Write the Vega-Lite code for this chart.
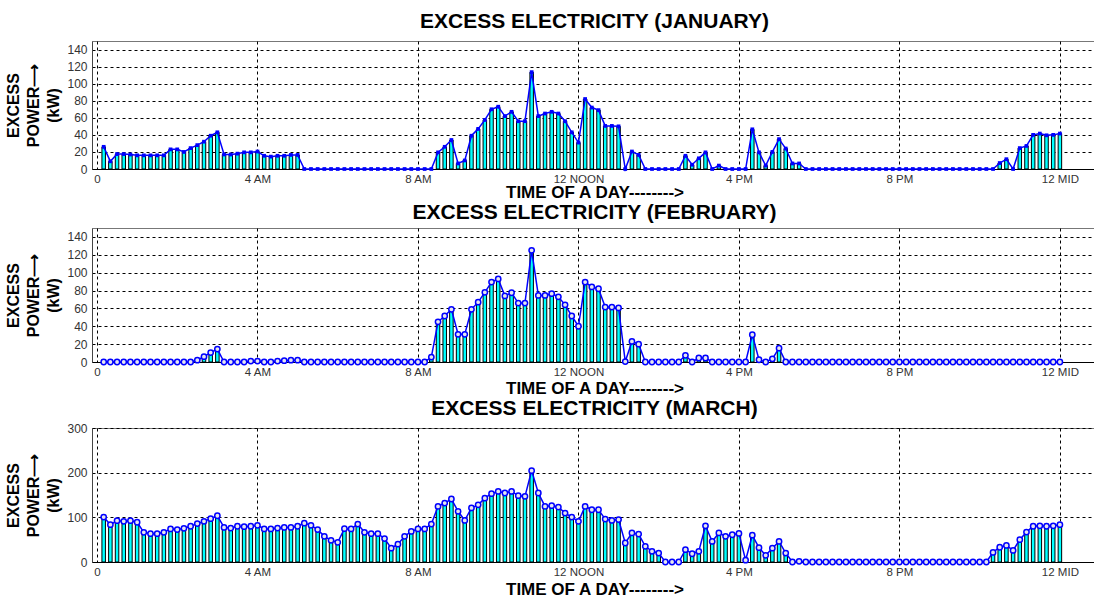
{
"$schema": "https://vega.github.io/schema/vega-lite/v6.json",
"background": "white",
"padding": {"left": 5, "top": 10, "right": 0, "bottom": 0},
"spacing": 0,
"config": {
  "font": "Liberation Sans",
  "view": {"stroke": "#777", "strokeWidth": 1},
  "title": {"font": "Liberation Sans", "fontSize": 21, "fontWeight": "bold", "color": "black", "anchor": "middle"},
  "axis": {"labelFont": "Liberation Sans", "labelFontSize": 12, "labelColor": "#333", "ticks": false, "labelPadding": 5, "domainColor": "#444", "grid": true, "gridColor": "black", "gridDash": [3, 3], "gridOpacity": 1, "gridWidth": 1, "titleFont": "Liberation Sans", "titleFontWeight": "bold", "titleColor": "black"}
},
"datasets": {
"jan": [{"m":10,"v":26},{"m":20,"v":9},{"m":30,"v":17.5},{"m":40,"v":17.5},{"m":50,"v":17},{"m":60,"v":16},{"m":70,"v":16},{"m":80,"v":16},{"m":90,"v":16},{"m":100,"v":16},{"m":110,"v":23},{"m":120,"v":23},{"m":130,"v":20},{"m":140,"v":24.5},{"m":150,"v":28},{"m":160,"v":32},{"m":170,"v":39},{"m":180,"v":43},{"m":190,"v":17},{"m":200,"v":17},{"m":210,"v":18},{"m":220,"v":19.5},{"m":230,"v":19.5},{"m":240,"v":20.5},{"m":250,"v":15.5},{"m":260,"v":14.5},{"m":270,"v":15.5},{"m":280,"v":15.5},{"m":290,"v":16.5},{"m":300,"v":16.5},
{"m":310,"v":0},{"m":320,"v":0},{"m":330,"v":0},{"m":340,"v":0},{"m":350,"v":0},{"m":360,"v":0},{"m":370,"v":0},{"m":380,"v":0},{"m":390,"v":0},{"m":400,"v":0},{"m":410,"v":0},{"m":420,"v":0},{"m":430,"v":0},{"m":440,"v":0},{"m":450,"v":0},{"m":460,"v":0},{"m":470,"v":0},{"m":480,"v":0},{"m":490,"v":0},{"m":500,"v":0},
{"m":510,"v":19.5},{"m":520,"v":26},{"m":530,"v":34},{"m":540,"v":6.5},{"m":550,"v":10},{"m":560,"v":39},{"m":570,"v":47},{"m":580,"v":57.5},{"m":590,"v":70},{"m":600,"v":73},{"m":610,"v":62},{"m":620,"v":67},{"m":630,"v":56},{"m":640,"v":56},{"m":650,"v":113.5},{"m":660,"v":62},{"m":670,"v":65},{"m":680,"v":67},{"m":690,"v":65},{"m":700,"v":56},{"m":710,"v":43},{"m":720,"v":31},{"m":730,"v":82},{"m":740,"v":72},{"m":750,"v":69},{"m":760,"v":50.5},{"m":770,"v":50.5},{"m":780,"v":50},{"m":790,"v":0},{"m":800,"v":20.5},{"m":810,"v":16.5},
{"m":820,"v":0},{"m":830,"v":0},{"m":840,"v":0},{"m":850,"v":0},{"m":860,"v":0},{"m":870,"v":0},
{"m":880,"v":15.5},{"m":890,"v":5},{"m":900,"v":12.5},{"m":910,"v":19.5},{"m":920,"v":0},{"m":930,"v":4},
{"m":940,"v":0},{"m":950,"v":0},{"m":960,"v":0},{"m":970,"v":0},
{"m":980,"v":46.5},{"m":990,"v":19.5},{"m":1000,"v":4},{"m":1010,"v":20},{"m":1020,"v":35},{"m":1030,"v":24},{"m":1040,"v":6.5},{"m":1050,"v":6.5},
{"m":1060,"v":0},{"m":1070,"v":0},{"m":1080,"v":0},{"m":1090,"v":0},{"m":1100,"v":0},{"m":1110,"v":0},{"m":1120,"v":0},{"m":1130,"v":0},{"m":1140,"v":0},{"m":1150,"v":0},{"m":1160,"v":0},{"m":1170,"v":0},{"m":1180,"v":0},{"m":1190,"v":0},{"m":1200,"v":0},{"m":1210,"v":0},{"m":1220,"v":0},{"m":1230,"v":0},{"m":1240,"v":0},{"m":1250,"v":0},{"m":1260,"v":0},{"m":1270,"v":0},{"m":1280,"v":0},{"m":1290,"v":0},{"m":1300,"v":0},{"m":1310,"v":0},{"m":1320,"v":0},{"m":1330,"v":0},{"m":1340,"v":0},
{"m":1350,"v":7},{"m":1360,"v":11.5},{"m":1370,"v":0},{"m":1380,"v":24.5},{"m":1390,"v":27},{"m":1400,"v":40},{"m":1410,"v":41.5},{"m":1420,"v":39.5},{"m":1430,"v":40},{"m":1440,"v":41.5}],
"feb": [{"m":10,"v":0},{"m":20,"v":0},{"m":30,"v":0},{"m":40,"v":0},{"m":50,"v":0},{"m":60,"v":0},{"m":70,"v":0},{"m":80,"v":0},{"m":90,"v":0},{"m":100,"v":0},{"m":110,"v":0},{"m":120,"v":0},{"m":130,"v":0},{"m":140,"v":0},{"m":150,"v":2},{"m":160,"v":6},{"m":170,"v":10.5},{"m":180,"v":14.5},{"m":190,"v":0},{"m":200,"v":0},{"m":210,"v":0},{"m":220,"v":0},{"m":230,"v":1},{"m":240,"v":1},{"m":250,"v":0},{"m":260,"v":0},{"m":270,"v":1},{"m":280,"v":1.5},{"m":290,"v":2},{"m":300,"v":2},
{"m":310,"v":0},{"m":320,"v":0},{"m":330,"v":0},{"m":340,"v":0},{"m":350,"v":0},{"m":360,"v":0},{"m":370,"v":0},{"m":380,"v":0},{"m":390,"v":0},{"m":400,"v":0},{"m":410,"v":0},{"m":420,"v":0},{"m":430,"v":0},{"m":440,"v":0},{"m":450,"v":0},{"m":460,"v":0},{"m":470,"v":0},{"m":480,"v":0},{"m":490,"v":0},
{"m":500,"v":5.5},{"m":510,"v":45},{"m":520,"v":51.5},{"m":530,"v":59},{"m":540,"v":31},{"m":550,"v":31},{"m":560,"v":59},{"m":570,"v":67},{"m":580,"v":78},{"m":590,"v":89.5},{"m":600,"v":93},{"m":610,"v":74},{"m":620,"v":77.5},{"m":630,"v":66},{"m":640,"v":66},{"m":650,"v":125},{"m":660,"v":74.5},{"m":670,"v":74.5},{"m":680,"v":76.5},{"m":690,"v":73},{"m":700,"v":64},{"m":710,"v":51.5},{"m":720,"v":40},{"m":730,"v":89.5},{"m":740,"v":84},{"m":750,"v":82},{"m":760,"v":61.5},{"m":770,"v":61.5},{"m":780,"v":60.5},{"m":790,"v":0.5},{"m":800,"v":23},{"m":810,"v":20},
{"m":820,"v":0},{"m":830,"v":0},{"m":840,"v":0},{"m":850,"v":0},{"m":860,"v":0},{"m":870,"v":0},
{"m":880,"v":7.5},{"m":890,"v":0},{"m":900,"v":4.5},{"m":910,"v":4.5},{"m":920,"v":0},{"m":930,"v":0},{"m":940,"v":0},{"m":950,"v":0},{"m":960,"v":0},{"m":970,"v":0},
{"m":980,"v":30.5},{"m":990,"v":2.5},{"m":1000,"v":0},{"m":1010,"v":3.5},{"m":1020,"v":15.5},
{"m":1030,"v":0},{"m":1040,"v":0},{"m":1050,"v":0},{"m":1060,"v":0},{"m":1070,"v":0},{"m":1080,"v":0},{"m":1090,"v":0},{"m":1100,"v":0},{"m":1110,"v":0},{"m":1120,"v":0},{"m":1130,"v":0},{"m":1140,"v":0},{"m":1150,"v":0},{"m":1160,"v":0},{"m":1170,"v":0},{"m":1180,"v":0},{"m":1190,"v":0},{"m":1200,"v":0},{"m":1210,"v":0},{"m":1220,"v":0},{"m":1230,"v":0},{"m":1240,"v":0},{"m":1250,"v":0},{"m":1260,"v":0},{"m":1270,"v":0},{"m":1280,"v":0},{"m":1290,"v":0},{"m":1300,"v":0},{"m":1310,"v":0},{"m":1320,"v":0},{"m":1330,"v":0},{"m":1340,"v":0},{"m":1350,"v":0},{"m":1360,"v":0},{"m":1370,"v":0},{"m":1380,"v":0},{"m":1390,"v":0},{"m":1400,"v":0},{"m":1410,"v":0},{"m":1420,"v":0},{"m":1430,"v":0},{"m":1440,"v":0}],
"mar": [{"m":10,"v":100.5},{"m":20,"v":83.5},{"m":30,"v":92.5},{"m":40,"v":91},{"m":50,"v":92.5},{"m":60,"v":89},{"m":70,"v":66.5},{"m":80,"v":63.5},{"m":90,"v":63.5},{"m":100,"v":66.5},{"m":110,"v":74},{"m":120,"v":72.5},{"m":130,"v":75.5},{"m":140,"v":80},{"m":150,"v":86},{"m":160,"v":91},{"m":170,"v":97},{"m":180,"v":103.5},{"m":190,"v":77.5},{"m":200,"v":76},{"m":210,"v":80},{"m":220,"v":79},{"m":230,"v":80},{"m":240,"v":82},{"m":250,"v":74},{"m":260,"v":74},{"m":270,"v":76},{"m":280,"v":77.5},{"m":290,"v":77.5},{"m":300,"v":80},{"m":310,"v":87},{"m":320,"v":82},{"m":330,"v":72.5},{"m":340,"v":57.5},{"m":350,"v":48.5},{"m":360,"v":44},{"m":370,"v":74.5},{"m":380,"v":74},{"m":390,"v":85},{"m":400,"v":66.5},{"m":410,"v":63.5},{"m":420,"v":63.5},{"m":430,"v":52.5},{"m":440,"v":31},{"m":450,"v":40},{"m":460,"v":57.5},{"m":470,"v":68.5},{"m":480,"v":74},{"m":490,"v":74},{"m":500,"v":85},{"m":510,"v":124.5},{"m":520,"v":132},{"m":530,"v":141},{"m":540,"v":113.5},{"m":550,"v":93},{"m":560,"v":121},{"m":570,"v":128},{"m":580,"v":143},{"m":590,"v":153},{"m":600,"v":158},{"m":610,"v":154.5},{"m":620,"v":158},{"m":630,"v":148.5},{"m":640,"v":147},{"m":650,"v":204.5},{"m":660,"v":154.5},{"m":670,"v":124.5},{"m":680,"v":126},{"m":690,"v":123},{"m":700,"v":109.5},{"m":710,"v":100.5},{"m":720,"v":91},{"m":730,"v":124.5},{"m":740,"v":117},{"m":750,"v":117},{"m":760,"v":96},{"m":770,"v":93},{"m":780,"v":95},{"m":790,"v":42.5},{"m":800,"v":65},{"m":810,"v":62.5},{"m":820,"v":35},{"m":830,"v":24},{"m":840,"v":20},{"m":850,"v":0},{"m":860,"v":0},{"m":870,"v":0},{"m":880,"v":27.5},{"m":890,"v":18.5},{"m":900,"v":24},{"m":910,"v":81},{"m":920,"v":46},{"m":930,"v":65},{"m":940,"v":57.5},{"m":950,"v":61},{"m":960,"v":64},{"m":970,"v":4},{"m":980,"v":60},{"m":990,"v":32},{"m":1000,"v":15},{"m":1010,"v":31},{"m":1020,"v":46},{"m":1030,"v":20},{"m":1040,"v":0},{"m":1050,"v":1.5},
{"m":1060,"v":0},{"m":1070,"v":0},{"m":1080,"v":0},{"m":1090,"v":0},{"m":1100,"v":0},{"m":1110,"v":0},{"m":1120,"v":0},{"m":1130,"v":0},{"m":1140,"v":0},{"m":1150,"v":0},{"m":1160,"v":0},{"m":1170,"v":0},{"m":1180,"v":0},{"m":1190,"v":0},{"m":1200,"v":0},{"m":1210,"v":0},{"m":1220,"v":0},{"m":1230,"v":0},{"m":1240,"v":0},{"m":1250,"v":0},{"m":1260,"v":0},{"m":1270,"v":0},{"m":1280,"v":0},{"m":1290,"v":0},{"m":1300,"v":0},{"m":1310,"v":0},{"m":1320,"v":0},{"m":1330,"v":0},
{"m":1340,"v":21.5},{"m":1350,"v":33},{"m":1360,"v":37},{"m":1370,"v":26},{"m":1380,"v":50},{"m":1390,"v":67},{"m":1400,"v":80},{"m":1410,"v":81},{"m":1420,"v":80},{"m":1430,"v":81},{"m":1440,"v":83.5}]
},
"vconcat": [
{
  "width": 1005, "height": 128,
  "title": {"text": "EXCESS ELECTRICITY (JANUARY)", "offset": 9},
  "data": {"name": "jan"},
  "encoding": {
    "x": {"field": "m", "type": "quantitative", "scale": {"domain": [0, 1488], "nice": false, "zero": false},
      "axis": {"values": [0, 240, 480, 720, 960, 1200, 1440], "labelExpr": "datum.value == 0 ? '0' : datum.value == 240 ? '4 AM' : datum.value == 480 ? '8 AM' : datum.value == 720 ? '12 NOON' : datum.value == 960 ? '4 PM' : datum.value == 1200 ? '8 PM' : '12 MID'", "labelFontSize": 11.5, "title": "TIME OF A DAY-------->", "titleFontSize": 17, "titlePadding": 0, "domainColor": "black", "labelPadding": 4}},
    "y": {"field": "v", "type": "quantitative", "scale": {"domain": [0, 150], "nice": false},
      "axis": {"values": [0, 20, 40, 60, 80, 100, 120, 140], "title": ["EXCESS", "POWER⟶", "(kW)"], "titleFontSize": 16, "titleLineHeight": 20, "titlePadding": 5}}
  },
  "layer": [
    {"mark": {"type": "bar", "size": 3.5, "fill": "#00FFFF", "stroke": "black", "strokeWidth": 1}},
    {"mark": {"type": "line", "color": "#0000FF", "strokeWidth": 1.5}},
    {"mark": {"type": "point", "shape": "square", "filled": true, "color": "#0000FF", "size": 14, "opacity": 1}}
  ]
},
{
  "width": 1005, "height": 134,
  "title": {"text": "EXCESS ELECTRICITY (FEBRUARY)", "offset": 5},
  "data": {"name": "feb"},
  "encoding": {
    "x": {"field": "m", "type": "quantitative", "scale": {"domain": [0, 1488], "nice": false, "zero": false},
      "axis": {"values": [0, 240, 480, 720, 960, 1200, 1440], "labelExpr": "datum.value == 0 ? '0' : datum.value == 240 ? '4 AM' : datum.value == 480 ? '8 AM' : datum.value == 720 ? '12 NOON' : datum.value == 960 ? '4 PM' : datum.value == 1200 ? '8 PM' : '12 MID'", "labelFontSize": 11.5, "title": "TIME OF A DAY-------->", "titleFontSize": 17, "titlePadding": 3, "domainColor": "black", "labelPadding": 4}},
    "y": {"field": "v", "type": "quantitative", "scale": {"domain": [0, 150], "nice": false},
      "axis": {"values": [0, 20, 40, 60, 80, 100, 120, 140], "title": ["EXCESS", "POWER⟶", "(kW)"], "titleFontSize": 16, "titleLineHeight": 20, "titlePadding": 5}}
  },
  "layer": [
    {"mark": {"type": "bar", "size": 3.5, "fill": "#00FFFF", "stroke": "black", "strokeWidth": 1}},
    {"mark": {"type": "line", "color": "#0000FF", "strokeWidth": 1.5}},
    {"mark": {"type": "point", "shape": "circle", "filled": true, "fill": "#E6E6EE", "stroke": "#0000FF", "strokeWidth": 1.5, "size": 28, "opacity": 1}}
  ]
},
{
  "width": 1005, "height": 134,
  "title": {"text": "EXCESS ELECTRICITY (MARCH)", "offset": 3},
  "data": {"name": "mar"},
  "encoding": {
    "x": {"field": "m", "type": "quantitative", "scale": {"domain": [0, 1488], "nice": false, "zero": false},
      "axis": {"values": [0, 240, 480, 720, 960, 1200, 1440], "labelExpr": "datum.value == 0 ? '0' : datum.value == 240 ? '4 AM' : datum.value == 480 ? '8 AM' : datum.value == 720 ? '12 NOON' : datum.value == 960 ? '4 PM' : datum.value == 1200 ? '8 PM' : '12 MID'", "labelFontSize": 11.5, "title": "TIME OF A DAY-------->", "titleFontSize": 17, "titlePadding": 4, "domainColor": "black", "labelPadding": 4}},
    "y": {"field": "v", "type": "quantitative", "scale": {"domain": [0, 300], "nice": false},
      "axis": {"values": [0, 100, 200, 300], "title": ["EXCESS", "POWER⟶", "(kW)"], "titleFontSize": 16, "titleLineHeight": 20, "titlePadding": 5}}
  },
  "layer": [
    {"mark": {"type": "bar", "size": 3.5, "fill": "#00FFFF", "stroke": "black", "strokeWidth": 1}},
    {"mark": {"type": "line", "color": "#0000FF", "strokeWidth": 1.5}},
    {"mark": {"type": "point", "shape": "circle", "filled": true, "fill": "#E6E6EE", "stroke": "#0000FF", "strokeWidth": 1.5, "size": 28, "opacity": 1}}
  ]
}
]
}
